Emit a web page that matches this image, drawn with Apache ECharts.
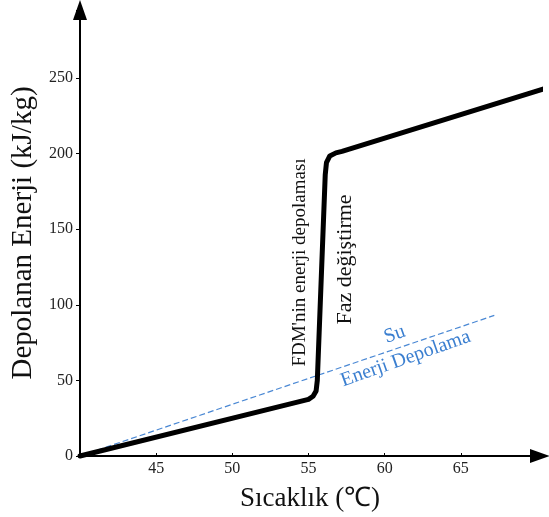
<!DOCTYPE html>
<html>
<head>
<meta charset="utf-8">
<script src="https://cdn.jsdelivr.net/npm/echarts@6/dist/echarts.min.js"></script>
<style>html,body{margin:0;padding:0;background:#fff}#c{width:549px;height:517px}</style>
</head>
<body>
<div id="c"></div>
<script>
// Data
const pcmSeries = [[40,0],[55,37.5],[55.3,39.5],[55.5,43],[55.58,50],[56.1,186],[56.18,194],[56.4,198.5],[56.8,200.5],[57.2,201.5],[70.8,244]];
const waterSeries = [[40,0],[67.2,93]];
const xTickLabels = [45,50,55,60,65];
const yTickLabels = [0,50,100,150,200,250];
const annotations = [
  {text:"FDM'nin enerji depolaması", at:[54.43,128], rot:90, size:19, color:'#111'},
  {text:'Faz değiştirme', at:[57.38,130], rot:90, size:22, color:'#111'},
  {text:'Su', at:[60.66,80.3], rot:19.5, size:20, color:'#3b7fd0'},
  {text:'Enerji Depolama', at:[61.38,64.3], rot:19.5, size:20, color:'#3b7fd0'}
];

const FONT = "'Liberation Serif','Times New Roman',serif";
const chart = echarts.init(document.getElementById('c'), null, {renderer:'canvas'});
const option = {
  animation:false,
  backgroundColor:'#fff',
  grid:{left:80,right:9,top:10,bottom:59},
  xAxis:{
    type:'value', min:40, max:70.2, interval:5,
    name:'Sıcaklık (℃)', nameLocation:'middle', nameGap:29,
    nameTextStyle:{fontFamily:FONT,fontSize:27,color:'#111'},
    axisLine:{show:true,lineStyle:{color:'#000',width:2},symbol:['none','triangle'],symbolSize:[14,20]},
    axisTick:{show:true,inside:true,length:3,lineStyle:{color:'#000',width:1}},
    axisLabel:{fontFamily:FONT,fontSize:16,color:'#222',margin:5,
      formatter:function(v){return xTickLabels.indexOf(v)>=0?String(v):'';}},
    splitLine:{show:false}
  },
  yAxis:{
    type:'value', min:0, max:295, interval:50,
    name:'Depolanan Enerji (kJ/kg)', nameLocation:'middle', nameGap:36, nameRotate:90,
    nameTextStyle:{fontFamily:FONT,fontSize:29,color:'#111'},
    axisLine:{show:true,lineStyle:{color:'#000',width:2},symbol:['none','triangle'],symbolSize:[14,20]},
    axisTick:{show:true,inside:false,length:4,lineStyle:{color:'#000',width:1}},
    axisLabel:{fontFamily:FONT,fontSize:16,color:'#222',margin:7,
      formatter:function(v){return yTickLabels.indexOf(v)>=0?String(v):'';}},
    splitLine:{show:false}
  },
  series:[
    {type:'line',data:waterSeries,showSymbol:false,clip:false,z:2,
      lineStyle:{color:'#4a88d4',width:1.2,type:[6,3]}},
    {type:'line',data:pcmSeries,showSymbol:false,clip:false,z:3,
      lineStyle:{color:'#000',width:5,cap:'round',join:'round'}}
  ]
};
chart.setOption(option);
const g = annotations.map(function(a){
  const p = chart.convertToPixel({gridIndex:0}, a.at);
  return {type:'text', x:p[0], y:p[1], rotation:a.rot*Math.PI/180, z:10,
    style:{text:a.text, fill:a.color, font:a.size+'px '+FONT, align:'center', verticalAlign:'middle'}};
});
chart.setOption({graphic:g});
</script>
</body>
</html>
